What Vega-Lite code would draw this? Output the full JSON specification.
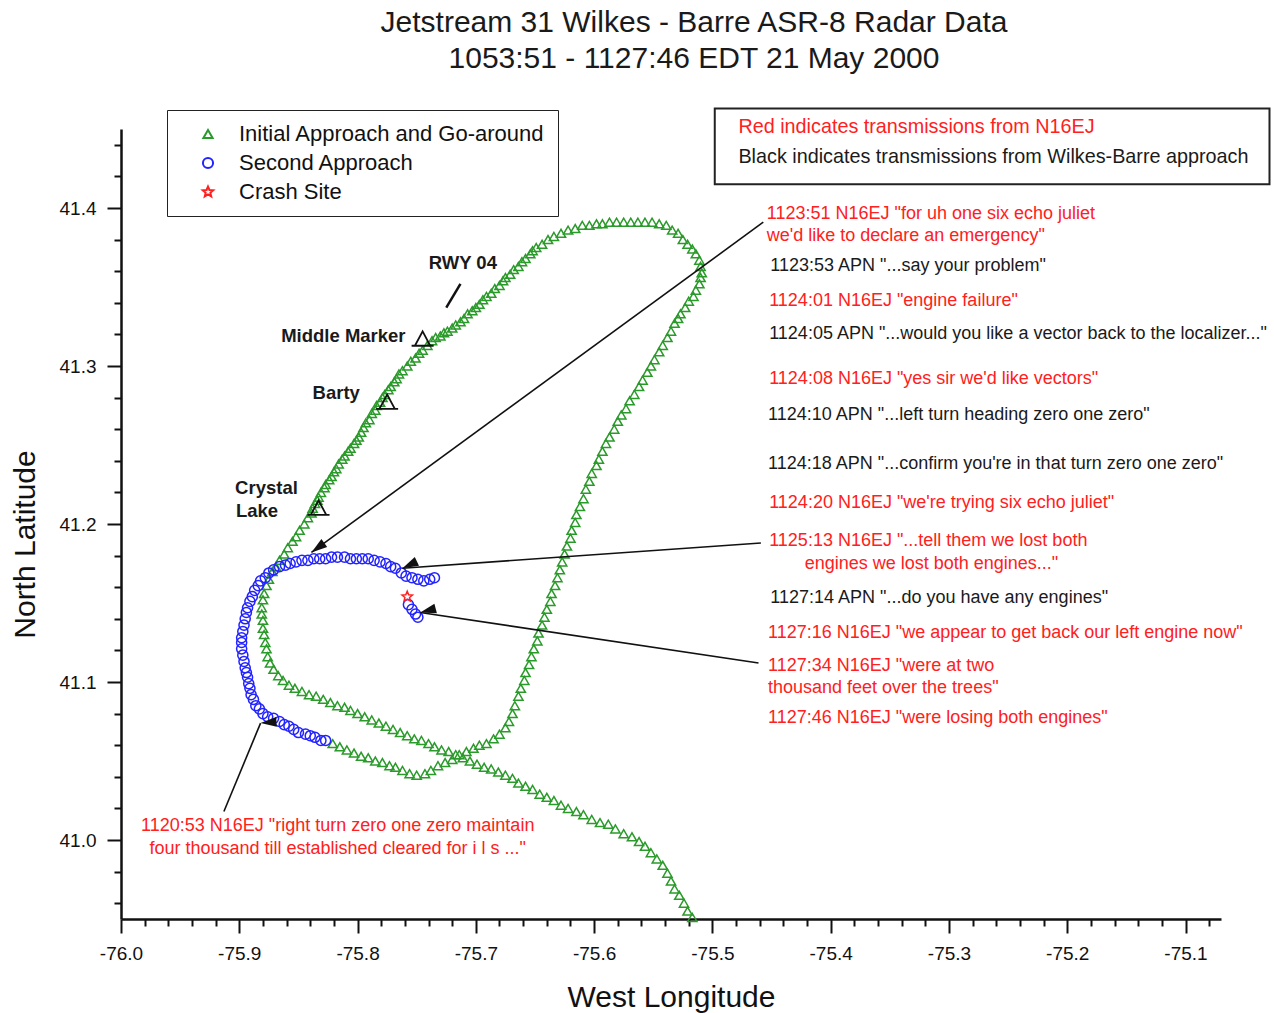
{
"$schema": "https://vega.github.io/schema/vega-lite/v6.json",
"width": 1100,
"height": 790,
"autosize": {"type": "none"},
"padding": {"left": 121, "top": 129, "right": 53, "bottom": 94},
"config": {"font": "Liberation Sans", "view": {"stroke": null}},
"title": {"text": ["Jetstream 31 Wilkes - Barre ASR-8 Radar Data", "1053:51 - 1127:46 EDT 21 May 2000"], "fontSize": 30, "fontWeight": "normal", "font": "Liberation Sans", "color": "#1a1a1a", "anchor": "middle", "frame": "group", "offset": 33, "dx": 23, "lineHeight": 36},
"datasets": {
"keybox": [{"lon": -75.498, "lat": 41.463, "lon2": -75.029, "lat2": 41.415}],
"key": [
{"text": "Red indicates transmissions from N16EJ", "who": "N16EJ", "lon": -75.478, "lat": 41.451},
{"text": "Black indicates transmissions from Wilkes-Barre approach", "who": "APN", "lon": -75.478, "lat": 41.432}
],
"fixes": [
{"fix": "Middle Marker", "lon": -75.745, "lat": 41.317},
{"fix": "Barty", "lon": -75.775, "lat": 41.277},
{"fix": "Crystal Lake", "lon": -75.833, "lat": 41.210}
],
"fixlabels": [
{"text": "RWY 04", "lon": -75.711, "lat": 41.365},
{"text": "Middle Marker", "lon": -75.812, "lat": 41.319},
{"text": "Barty", "lon": -75.818, "lat": 41.283},
{"text": "Crystal", "lon": -75.877, "lat": 41.223},
{"text": "Lake", "lon": -75.885, "lat": 41.208}
],
"runway": [{"lon": -75.725, "lat": 41.337, "lon2": -75.713, "lat2": 41.352}],
"arrows": [
{"id": "a1", "lon": -75.839, "lat": 41.182, "lon2": -75.457, "lat2": 41.391},
{"id": "a2", "lon": -75.762, "lat": 41.172, "lon2": -75.459, "lat2": 41.188},
{"id": "a3", "lon": -75.747, "lat": 41.144, "lon2": -75.461, "lat2": 41.112},
{"id": "a4", "lon": -75.882, "lat": 41.074, "lon2": -75.913, "lat2": 41.018}
],
"notes": [
{"text": "1123:51 N16EJ \"for uh one six echo juliet", "who": "N16EJ", "lon": -75.454, "lat": 41.396},
{"text": "we'd like to declare an emergency\"", "who": "N16EJ", "lon": -75.454, "lat": 41.382},
{"text": "1123:53 APN \"...say your problem\"", "who": "APN", "lon": -75.451, "lat": 41.363},
{"text": "1124:01 N16EJ \"engine failure\"", "who": "N16EJ", "lon": -75.452, "lat": 41.341},
{"text": "1124:05 APN \"...would you like a vector back to the localizer...\"", "who": "APN", "lon": -75.452, "lat": 41.320},
{"text": "1124:08 N16EJ \"yes sir we'd like vectors\"", "who": "N16EJ", "lon": -75.452, "lat": 41.292},
{"text": "1124:10 APN \"...left turn heading zero one zero\"", "who": "APN", "lon": -75.453, "lat": 41.269},
{"text": "1124:18 APN \"...confirm you're in that turn zero one zero\"", "who": "APN", "lon": -75.453, "lat": 41.238},
{"text": "1124:20 N16EJ \"we're trying six echo juliet\"", "who": "N16EJ", "lon": -75.452, "lat": 41.213},
{"text": "1125:13 N16EJ \"...tell them we lost both", "who": "N16EJ", "lon": -75.452, "lat": 41.189},
{"text": "engines we lost both engines...\"", "who": "N16EJ", "lon": -75.422, "lat": 41.175},
{"text": "1127:14 APN \"...do you have any engines\"", "who": "APN", "lon": -75.451, "lat": 41.153},
{"text": "1127:16 N16EJ \"we appear to get back our left engine now\"", "who": "N16EJ", "lon": -75.453, "lat": 41.131},
{"text": "1127:34 N16EJ \"were at two", "who": "N16EJ", "lon": -75.453, "lat": 41.110},
{"text": "thousand feet over the trees\"", "who": "N16EJ", "lon": -75.453, "lat": 41.096},
{"text": "1127:46 N16EJ \"were losing both engines\"", "who": "N16EJ", "lon": -75.453, "lat": 41.077},
{"text": "1120:53 N16EJ \"right turn zero one zero maintain", "who": "N16EJ", "lon": -75.983, "lat": 41.009},
{"text": "four thousand till established cleared for i l s ...\"", "who": "N16EJ", "lon": -75.976, "lat": 40.994}
],
"track": [
{"track":"Initial Approach and Go-around","lon":-75.517,"lat":40.951},
{"track":"Initial Approach and Go-around","lon":-75.521,"lat":40.955},
{"track":"Initial Approach and Go-around","lon":-75.524,"lat":40.960},
{"track":"Initial Approach and Go-around","lon":-75.528,"lat":40.965},
{"track":"Initial Approach and Go-around","lon":-75.532,"lat":40.969},
{"track":"Initial Approach and Go-around","lon":-75.535,"lat":40.974},
{"track":"Initial Approach and Go-around","lon":-75.538,"lat":40.979},
{"track":"Initial Approach and Go-around","lon":-75.542,"lat":40.984},
{"track":"Initial Approach and Go-around","lon":-75.547,"lat":40.988},
{"track":"Initial Approach and Go-around","lon":-75.552,"lat":40.992},
{"track":"Initial Approach and Go-around","lon":-75.557,"lat":40.996},
{"track":"Initial Approach and Go-around","lon":-75.562,"lat":40.999},
{"track":"Initial Approach and Go-around","lon":-75.568,"lat":41.002},
{"track":"Initial Approach and Go-around","lon":-75.575,"lat":41.004},
{"track":"Initial Approach and Go-around","lon":-75.582,"lat":41.007},
{"track":"Initial Approach and Go-around","lon":-75.588,"lat":41.010},
{"track":"Initial Approach and Go-around","lon":-75.595,"lat":41.011},
{"track":"Initial Approach and Go-around","lon":-75.602,"lat":41.013},
{"track":"Initial Approach and Go-around","lon":-75.609,"lat":41.016},
{"track":"Initial Approach and Go-around","lon":-75.615,"lat":41.018},
{"track":"Initial Approach and Go-around","lon":-75.622,"lat":41.020},
{"track":"Initial Approach and Go-around","lon":-75.628,"lat":41.022},
{"track":"Initial Approach and Go-around","lon":-75.634,"lat":41.025},
{"track":"Initial Approach and Go-around","lon":-75.640,"lat":41.027},
{"track":"Initial Approach and Go-around","lon":-75.646,"lat":41.029},
{"track":"Initial Approach and Go-around","lon":-75.652,"lat":41.032},
{"track":"Initial Approach and Go-around","lon":-75.658,"lat":41.034},
{"track":"Initial Approach and Go-around","lon":-75.664,"lat":41.036},
{"track":"Initial Approach and Go-around","lon":-75.669,"lat":41.039},
{"track":"Initial Approach and Go-around","lon":-75.675,"lat":41.041},
{"track":"Initial Approach and Go-around","lon":-75.681,"lat":41.043},
{"track":"Initial Approach and Go-around","lon":-75.687,"lat":41.045},
{"track":"Initial Approach and Go-around","lon":-75.693,"lat":41.046},
{"track":"Initial Approach and Go-around","lon":-75.699,"lat":41.048},
{"track":"Initial Approach and Go-around","lon":-75.705,"lat":41.050},
{"track":"Initial Approach and Go-around","lon":-75.711,"lat":41.052},
{"track":"Initial Approach and Go-around","lon":-75.717,"lat":41.054},
{"track":"Initial Approach and Go-around","lon":-75.723,"lat":41.056},
{"track":"Initial Approach and Go-around","lon":-75.729,"lat":41.057},
{"track":"Initial Approach and Go-around","lon":-75.735,"lat":41.059},
{"track":"Initial Approach and Go-around","lon":-75.740,"lat":41.061},
{"track":"Initial Approach and Go-around","lon":-75.746,"lat":41.063},
{"track":"Initial Approach and Go-around","lon":-75.752,"lat":41.064},
{"track":"Initial Approach and Go-around","lon":-75.758,"lat":41.066},
{"track":"Initial Approach and Go-around","lon":-75.764,"lat":41.068},
{"track":"Initial Approach and Go-around","lon":-75.770,"lat":41.070},
{"track":"Initial Approach and Go-around","lon":-75.776,"lat":41.072},
{"track":"Initial Approach and Go-around","lon":-75.782,"lat":41.074},
{"track":"Initial Approach and Go-around","lon":-75.788,"lat":41.076},
{"track":"Initial Approach and Go-around","lon":-75.794,"lat":41.078},
{"track":"Initial Approach and Go-around","lon":-75.800,"lat":41.080},
{"track":"Initial Approach and Go-around","lon":-75.806,"lat":41.082},
{"track":"Initial Approach and Go-around","lon":-75.811,"lat":41.084},
{"track":"Initial Approach and Go-around","lon":-75.817,"lat":41.085},
{"track":"Initial Approach and Go-around","lon":-75.823,"lat":41.087},
{"track":"Initial Approach and Go-around","lon":-75.829,"lat":41.089},
{"track":"Initial Approach and Go-around","lon":-75.835,"lat":41.091},
{"track":"Initial Approach and Go-around","lon":-75.841,"lat":41.092},
{"track":"Initial Approach and Go-around","lon":-75.847,"lat":41.094},
{"track":"Initial Approach and Go-around","lon":-75.853,"lat":41.096},
{"track":"Initial Approach and Go-around","lon":-75.858,"lat":41.098},
{"track":"Initial Approach and Go-around","lon":-75.863,"lat":41.101},
{"track":"Initial Approach and Go-around","lon":-75.867,"lat":41.104},
{"track":"Initial Approach and Go-around","lon":-75.871,"lat":41.108},
{"track":"Initial Approach and Go-around","lon":-75.874,"lat":41.112},
{"track":"Initial Approach and Go-around","lon":-75.876,"lat":41.116},
{"track":"Initial Approach and Go-around","lon":-75.877,"lat":41.121},
{"track":"Initial Approach and Go-around","lon":-75.878,"lat":41.125},
{"track":"Initial Approach and Go-around","lon":-75.879,"lat":41.130},
{"track":"Initial Approach and Go-around","lon":-75.880,"lat":41.134},
{"track":"Initial Approach and Go-around","lon":-75.880,"lat":41.139},
{"track":"Initial Approach and Go-around","lon":-75.881,"lat":41.143},
{"track":"Initial Approach and Go-around","lon":-75.881,"lat":41.147},
{"track":"Initial Approach and Go-around","lon":-75.880,"lat":41.152},
{"track":"Initial Approach and Go-around","lon":-75.879,"lat":41.156},
{"track":"Initial Approach and Go-around","lon":-75.877,"lat":41.161},
{"track":"Initial Approach and Go-around","lon":-75.875,"lat":41.165},
{"track":"Initial Approach and Go-around","lon":-75.872,"lat":41.170},
{"track":"Initial Approach and Go-around","lon":-75.869,"lat":41.173},
{"track":"Initial Approach and Go-around","lon":-75.866,"lat":41.177},
{"track":"Initial Approach and Go-around","lon":-75.862,"lat":41.181},
{"track":"Initial Approach and Go-around","lon":-75.859,"lat":41.185},
{"track":"Initial Approach and Go-around","lon":-75.855,"lat":41.189},
{"track":"Initial Approach and Go-around","lon":-75.852,"lat":41.192},
{"track":"Initial Approach and Go-around","lon":-75.849,"lat":41.196},
{"track":"Initial Approach and Go-around","lon":-75.845,"lat":41.200},
{"track":"Initial Approach and Go-around","lon":-75.842,"lat":41.204},
{"track":"Initial Approach and Go-around","lon":-75.839,"lat":41.207},
{"track":"Initial Approach and Go-around","lon":-75.838,"lat":41.210},
{"track":"Initial Approach and Go-around","lon":-75.836,"lat":41.213},
{"track":"Initial Approach and Go-around","lon":-75.834,"lat":41.215},
{"track":"Initial Approach and Go-around","lon":-75.833,"lat":41.217},
{"track":"Initial Approach and Go-around","lon":-75.831,"lat":41.220},
{"track":"Initial Approach and Go-around","lon":-75.828,"lat":41.223},
{"track":"Initial Approach and Go-around","lon":-75.827,"lat":41.225},
{"track":"Initial Approach and Go-around","lon":-75.824,"lat":41.228},
{"track":"Initial Approach and Go-around","lon":-75.822,"lat":41.230},
{"track":"Initial Approach and Go-around","lon":-75.820,"lat":41.233},
{"track":"Initial Approach and Go-around","lon":-75.818,"lat":41.235},
{"track":"Initial Approach and Go-around","lon":-75.816,"lat":41.238},
{"track":"Initial Approach and Go-around","lon":-75.813,"lat":41.241},
{"track":"Initial Approach and Go-around","lon":-75.811,"lat":41.243},
{"track":"Initial Approach and Go-around","lon":-75.808,"lat":41.246},
{"track":"Initial Approach and Go-around","lon":-75.806,"lat":41.248},
{"track":"Initial Approach and Go-around","lon":-75.803,"lat":41.251},
{"track":"Initial Approach and Go-around","lon":-75.801,"lat":41.253},
{"track":"Initial Approach and Go-around","lon":-75.799,"lat":41.255},
{"track":"Initial Approach and Go-around","lon":-75.797,"lat":41.258},
{"track":"Initial Approach and Go-around","lon":-75.795,"lat":41.261},
{"track":"Initial Approach and Go-around","lon":-75.793,"lat":41.264},
{"track":"Initial Approach and Go-around","lon":-75.790,"lat":41.266},
{"track":"Initial Approach and Go-around","lon":-75.788,"lat":41.270},
{"track":"Initial Approach and Go-around","lon":-75.785,"lat":41.272},
{"track":"Initial Approach and Go-around","lon":-75.784,"lat":41.275},
{"track":"Initial Approach and Go-around","lon":-75.781,"lat":41.277},
{"track":"Initial Approach and Go-around","lon":-75.779,"lat":41.280},
{"track":"Initial Approach and Go-around","lon":-75.777,"lat":41.282},
{"track":"Initial Approach and Go-around","lon":-75.774,"lat":41.285},
{"track":"Initial Approach and Go-around","lon":-75.772,"lat":41.287},
{"track":"Initial Approach and Go-around","lon":-75.769,"lat":41.290},
{"track":"Initial Approach and Go-around","lon":-75.767,"lat":41.292},
{"track":"Initial Approach and Go-around","lon":-75.765,"lat":41.295},
{"track":"Initial Approach and Go-around","lon":-75.762,"lat":41.297},
{"track":"Initial Approach and Go-around","lon":-75.758,"lat":41.300},
{"track":"Initial Approach and Go-around","lon":-75.755,"lat":41.303},
{"track":"Initial Approach and Go-around","lon":-75.751,"lat":41.305},
{"track":"Initial Approach and Go-around","lon":-75.748,"lat":41.308},
{"track":"Initial Approach and Go-around","lon":-75.745,"lat":41.310},
{"track":"Initial Approach and Go-around","lon":-75.741,"lat":41.313},
{"track":"Initial Approach and Go-around","lon":-75.737,"lat":41.316},
{"track":"Initial Approach and Go-around","lon":-75.734,"lat":41.318},
{"track":"Initial Approach and Go-around","lon":-75.730,"lat":41.319},
{"track":"Initial Approach and Go-around","lon":-75.727,"lat":41.321},
{"track":"Initial Approach and Go-around","lon":-75.724,"lat":41.322},
{"track":"Initial Approach and Go-around","lon":-75.720,"lat":41.324},
{"track":"Initial Approach and Go-around","lon":-75.717,"lat":41.326},
{"track":"Initial Approach and Go-around","lon":-75.713,"lat":41.328},
{"track":"Initial Approach and Go-around","lon":-75.710,"lat":41.330},
{"track":"Initial Approach and Go-around","lon":-75.707,"lat":41.333},
{"track":"Initial Approach and Go-around","lon":-75.703,"lat":41.335},
{"track":"Initial Approach and Go-around","lon":-75.700,"lat":41.337},
{"track":"Initial Approach and Go-around","lon":-75.697,"lat":41.339},
{"track":"Initial Approach and Go-around","lon":-75.694,"lat":41.342},
{"track":"Initial Approach and Go-around","lon":-75.691,"lat":41.344},
{"track":"Initial Approach and Go-around","lon":-75.687,"lat":41.346},
{"track":"Initial Approach and Go-around","lon":-75.684,"lat":41.349},
{"track":"Initial Approach and Go-around","lon":-75.680,"lat":41.351},
{"track":"Initial Approach and Go-around","lon":-75.677,"lat":41.354},
{"track":"Initial Approach and Go-around","lon":-75.675,"lat":41.356},
{"track":"Initial Approach and Go-around","lon":-75.671,"lat":41.358},
{"track":"Initial Approach and Go-around","lon":-75.668,"lat":41.361},
{"track":"Initial Approach and Go-around","lon":-75.664,"lat":41.363},
{"track":"Initial Approach and Go-around","lon":-75.661,"lat":41.366},
{"track":"Initial Approach and Go-around","lon":-75.658,"lat":41.368},
{"track":"Initial Approach and Go-around","lon":-75.654,"lat":41.371},
{"track":"Initial Approach and Go-around","lon":-75.652,"lat":41.373},
{"track":"Initial Approach and Go-around","lon":-75.649,"lat":41.375},
{"track":"Initial Approach and Go-around","lon":-75.644,"lat":41.377},
{"track":"Initial Approach and Go-around","lon":-75.639,"lat":41.380},
{"track":"Initial Approach and Go-around","lon":-75.634,"lat":41.382},
{"track":"Initial Approach and Go-around","lon":-75.628,"lat":41.384},
{"track":"Initial Approach and Go-around","lon":-75.622,"lat":41.386},
{"track":"Initial Approach and Go-around","lon":-75.616,"lat":41.387},
{"track":"Initial Approach and Go-around","lon":-75.610,"lat":41.389},
{"track":"Initial Approach and Go-around","lon":-75.604,"lat":41.389},
{"track":"Initial Approach and Go-around","lon":-75.598,"lat":41.390},
{"track":"Initial Approach and Go-around","lon":-75.593,"lat":41.390},
{"track":"Initial Approach and Go-around","lon":-75.587,"lat":41.391},
{"track":"Initial Approach and Go-around","lon":-75.581,"lat":41.391},
{"track":"Initial Approach and Go-around","lon":-75.575,"lat":41.391},
{"track":"Initial Approach and Go-around","lon":-75.569,"lat":41.391},
{"track":"Initial Approach and Go-around","lon":-75.563,"lat":41.391},
{"track":"Initial Approach and Go-around","lon":-75.557,"lat":41.391},
{"track":"Initial Approach and Go-around","lon":-75.551,"lat":41.391},
{"track":"Initial Approach and Go-around","lon":-75.545,"lat":41.390},
{"track":"Initial Approach and Go-around","lon":-75.539,"lat":41.389},
{"track":"Initial Approach and Go-around","lon":-75.534,"lat":41.386},
{"track":"Initial Approach and Go-around","lon":-75.529,"lat":41.384},
{"track":"Initial Approach and Go-around","lon":-75.525,"lat":41.380},
{"track":"Initial Approach and Go-around","lon":-75.521,"lat":41.377},
{"track":"Initial Approach and Go-around","lon":-75.517,"lat":41.374},
{"track":"Initial Approach and Go-around","lon":-75.514,"lat":41.371},
{"track":"Initial Approach and Go-around","lon":-75.511,"lat":41.367},
{"track":"Initial Approach and Go-around","lon":-75.510,"lat":41.363},
{"track":"Initial Approach and Go-around","lon":-75.509,"lat":41.359},
{"track":"Initial Approach and Go-around","lon":-75.510,"lat":41.356},
{"track":"Initial Approach and Go-around","lon":-75.511,"lat":41.352},
{"track":"Initial Approach and Go-around","lon":-75.514,"lat":41.348},
{"track":"Initial Approach and Go-around","lon":-75.516,"lat":41.344},
{"track":"Initial Approach and Go-around","lon":-75.520,"lat":41.341},
{"track":"Initial Approach and Go-around","lon":-75.523,"lat":41.337},
{"track":"Initial Approach and Go-around","lon":-75.527,"lat":41.333},
{"track":"Initial Approach and Go-around","lon":-75.529,"lat":41.330},
{"track":"Initial Approach and Go-around","lon":-75.532,"lat":41.327},
{"track":"Initial Approach and Go-around","lon":-75.535,"lat":41.322},
{"track":"Initial Approach and Go-around","lon":-75.538,"lat":41.318},
{"track":"Initial Approach and Go-around","lon":-75.542,"lat":41.313},
{"track":"Initial Approach and Go-around","lon":-75.545,"lat":41.309},
{"track":"Initial Approach and Go-around","lon":-75.549,"lat":41.304},
{"track":"Initial Approach and Go-around","lon":-75.552,"lat":41.300},
{"track":"Initial Approach and Go-around","lon":-75.555,"lat":41.296},
{"track":"Initial Approach and Go-around","lon":-75.559,"lat":41.291},
{"track":"Initial Approach and Go-around","lon":-75.562,"lat":41.287},
{"track":"Initial Approach and Go-around","lon":-75.566,"lat":41.282},
{"track":"Initial Approach and Go-around","lon":-75.570,"lat":41.278},
{"track":"Initial Approach and Go-around","lon":-75.573,"lat":41.273},
{"track":"Initial Approach and Go-around","lon":-75.577,"lat":41.269},
{"track":"Initial Approach and Go-around","lon":-75.580,"lat":41.265},
{"track":"Initial Approach and Go-around","lon":-75.583,"lat":41.260},
{"track":"Initial Approach and Go-around","lon":-75.587,"lat":41.255},
{"track":"Initial Approach and Go-around","lon":-75.590,"lat":41.251},
{"track":"Initial Approach and Go-around","lon":-75.593,"lat":41.246},
{"track":"Initial Approach and Go-around","lon":-75.596,"lat":41.241},
{"track":"Initial Approach and Go-around","lon":-75.598,"lat":41.237},
{"track":"Initial Approach and Go-around","lon":-75.602,"lat":41.232},
{"track":"Initial Approach and Go-around","lon":-75.604,"lat":41.227},
{"track":"Initial Approach and Go-around","lon":-75.607,"lat":41.222},
{"track":"Initial Approach and Go-around","lon":-75.609,"lat":41.216},
{"track":"Initial Approach and Go-around","lon":-75.612,"lat":41.211},
{"track":"Initial Approach and Go-around","lon":-75.615,"lat":41.206},
{"track":"Initial Approach and Go-around","lon":-75.616,"lat":41.201},
{"track":"Initial Approach and Go-around","lon":-75.619,"lat":41.196},
{"track":"Initial Approach and Go-around","lon":-75.620,"lat":41.191},
{"track":"Initial Approach and Go-around","lon":-75.623,"lat":41.186},
{"track":"Initial Approach and Go-around","lon":-75.625,"lat":41.181},
{"track":"Initial Approach and Go-around","lon":-75.627,"lat":41.176},
{"track":"Initial Approach and Go-around","lon":-75.629,"lat":41.171},
{"track":"Initial Approach and Go-around","lon":-75.631,"lat":41.166},
{"track":"Initial Approach and Go-around","lon":-75.633,"lat":41.161},
{"track":"Initial Approach and Go-around","lon":-75.636,"lat":41.156},
{"track":"Initial Approach and Go-around","lon":-75.637,"lat":41.151},
{"track":"Initial Approach and Go-around","lon":-75.640,"lat":41.146},
{"track":"Initial Approach and Go-around","lon":-75.642,"lat":41.141},
{"track":"Initial Approach and Go-around","lon":-75.644,"lat":41.136},
{"track":"Initial Approach and Go-around","lon":-75.647,"lat":41.131},
{"track":"Initial Approach and Go-around","lon":-75.648,"lat":41.126},
{"track":"Initial Approach and Go-around","lon":-75.651,"lat":41.121},
{"track":"Initial Approach and Go-around","lon":-75.653,"lat":41.116},
{"track":"Initial Approach and Go-around","lon":-75.655,"lat":41.111},
{"track":"Initial Approach and Go-around","lon":-75.658,"lat":41.106},
{"track":"Initial Approach and Go-around","lon":-75.659,"lat":41.101},
{"track":"Initial Approach and Go-around","lon":-75.662,"lat":41.096},
{"track":"Initial Approach and Go-around","lon":-75.664,"lat":41.091},
{"track":"Initial Approach and Go-around","lon":-75.667,"lat":41.085},
{"track":"Initial Approach and Go-around","lon":-75.669,"lat":41.080},
{"track":"Initial Approach and Go-around","lon":-75.672,"lat":41.075},
{"track":"Initial Approach and Go-around","lon":-75.675,"lat":41.071},
{"track":"Initial Approach and Go-around","lon":-75.680,"lat":41.067},
{"track":"Initial Approach and Go-around","lon":-75.685,"lat":41.064},
{"track":"Initial Approach and Go-around","lon":-75.691,"lat":41.061},
{"track":"Initial Approach and Go-around","lon":-75.697,"lat":41.060},
{"track":"Initial Approach and Go-around","lon":-75.702,"lat":41.058},
{"track":"Initial Approach and Go-around","lon":-75.708,"lat":41.056},
{"track":"Initial Approach and Go-around","lon":-75.714,"lat":41.054},
{"track":"Initial Approach and Go-around","lon":-75.720,"lat":41.051},
{"track":"Initial Approach and Go-around","lon":-75.726,"lat":41.049},
{"track":"Initial Approach and Go-around","lon":-75.732,"lat":41.047},
{"track":"Initial Approach and Go-around","lon":-75.738,"lat":41.044},
{"track":"Initial Approach and Go-around","lon":-75.743,"lat":41.042},
{"track":"Initial Approach and Go-around","lon":-75.750,"lat":41.041},
{"track":"Initial Approach and Go-around","lon":-75.756,"lat":41.042},
{"track":"Initial Approach and Go-around","lon":-75.762,"lat":41.044},
{"track":"Initial Approach and Go-around","lon":-75.768,"lat":41.046},
{"track":"Initial Approach and Go-around","lon":-75.773,"lat":41.047},
{"track":"Initial Approach and Go-around","lon":-75.779,"lat":41.049},
{"track":"Initial Approach and Go-around","lon":-75.785,"lat":41.050},
{"track":"Initial Approach and Go-around","lon":-75.791,"lat":41.052},
{"track":"Initial Approach and Go-around","lon":-75.797,"lat":41.053},
{"track":"Initial Approach and Go-around","lon":-75.803,"lat":41.055},
{"track":"Initial Approach and Go-around","lon":-75.809,"lat":41.057},
{"track":"Initial Approach and Go-around","lon":-75.815,"lat":41.059},
{"track":"Initial Approach and Go-around","lon":-75.821,"lat":41.061},
{"track":"Second Approach","lon":-75.827,"lat":41.063},
{"track":"Second Approach","lon":-75.831,"lat":41.063},
{"track":"Second Approach","lon":-75.836,"lat":41.065},
{"track":"Second Approach","lon":-75.840,"lat":41.066},
{"track":"Second Approach","lon":-75.844,"lat":41.067},
{"track":"Second Approach","lon":-75.850,"lat":41.068},
{"track":"Second Approach","lon":-75.854,"lat":41.070},
{"track":"Second Approach","lon":-75.858,"lat":41.072},
{"track":"Second Approach","lon":-75.862,"lat":41.073},
{"track":"Second Approach","lon":-75.866,"lat":41.075},
{"track":"Second Approach","lon":-75.871,"lat":41.077},
{"track":"Second Approach","lon":-75.876,"lat":41.078},
{"track":"Second Approach","lon":-75.880,"lat":41.080},
{"track":"Second Approach","lon":-75.883,"lat":41.083},
{"track":"Second Approach","lon":-75.886,"lat":41.085},
{"track":"Second Approach","lon":-75.888,"lat":41.089},
{"track":"Second Approach","lon":-75.890,"lat":41.092},
{"track":"Second Approach","lon":-75.891,"lat":41.096},
{"track":"Second Approach","lon":-75.892,"lat":41.099},
{"track":"Second Approach","lon":-75.893,"lat":41.103},
{"track":"Second Approach","lon":-75.894,"lat":41.106},
{"track":"Second Approach","lon":-75.895,"lat":41.109},
{"track":"Second Approach","lon":-75.896,"lat":41.113},
{"track":"Second Approach","lon":-75.897,"lat":41.117},
{"track":"Second Approach","lon":-75.898,"lat":41.121},
{"track":"Second Approach","lon":-75.898,"lat":41.125},
{"track":"Second Approach","lon":-75.898,"lat":41.128},
{"track":"Second Approach","lon":-75.897,"lat":41.132},
{"track":"Second Approach","lon":-75.896,"lat":41.136},
{"track":"Second Approach","lon":-75.895,"lat":41.140},
{"track":"Second Approach","lon":-75.894,"lat":41.144},
{"track":"Second Approach","lon":-75.893,"lat":41.147},
{"track":"Second Approach","lon":-75.891,"lat":41.151},
{"track":"Second Approach","lon":-75.889,"lat":41.154},
{"track":"Second Approach","lon":-75.887,"lat":41.158},
{"track":"Second Approach","lon":-75.884,"lat":41.161},
{"track":"Second Approach","lon":-75.882,"lat":41.164},
{"track":"Second Approach","lon":-75.878,"lat":41.166},
{"track":"Second Approach","lon":-75.875,"lat":41.169},
{"track":"Second Approach","lon":-75.871,"lat":41.171},
{"track":"Second Approach","lon":-75.866,"lat":41.173},
{"track":"Second Approach","lon":-75.861,"lat":41.174},
{"track":"Second Approach","lon":-75.857,"lat":41.175},
{"track":"Second Approach","lon":-75.852,"lat":41.176},
{"track":"Second Approach","lon":-75.847,"lat":41.177},
{"track":"Second Approach","lon":-75.842,"lat":41.177},
{"track":"Second Approach","lon":-75.837,"lat":41.178},
{"track":"Second Approach","lon":-75.832,"lat":41.178},
{"track":"Second Approach","lon":-75.827,"lat":41.178},
{"track":"Second Approach","lon":-75.822,"lat":41.179},
{"track":"Second Approach","lon":-75.817,"lat":41.179},
{"track":"Second Approach","lon":-75.811,"lat":41.179},
{"track":"Second Approach","lon":-75.806,"lat":41.178},
{"track":"Second Approach","lon":-75.801,"lat":41.178},
{"track":"Second Approach","lon":-75.796,"lat":41.178},
{"track":"Second Approach","lon":-75.791,"lat":41.178},
{"track":"Second Approach","lon":-75.786,"lat":41.177},
{"track":"Second Approach","lon":-75.781,"lat":41.176},
{"track":"Second Approach","lon":-75.776,"lat":41.175},
{"track":"Second Approach","lon":-75.772,"lat":41.173},
{"track":"Second Approach","lon":-75.768,"lat":41.172},
{"track":"Second Approach","lon":-75.763,"lat":41.169},
{"track":"Second Approach","lon":-75.759,"lat":41.167},
{"track":"Second Approach","lon":-75.754,"lat":41.166},
{"track":"Second Approach","lon":-75.749,"lat":41.165},
{"track":"Second Approach","lon":-75.744,"lat":41.164},
{"track":"Second Approach","lon":-75.739,"lat":41.165},
{"track":"Second Approach","lon":-75.735,"lat":41.166},
{"track":"Second Approach","lon":-75.757,"lat":41.149},
{"track":"Second Approach","lon":-75.754,"lat":41.146},
{"track":"Second Approach","lon":-75.751,"lat":41.143},
{"track":"Second Approach","lon":-75.749,"lat":41.141},
{"track":"Crash Site","lon":-75.758,"lat":41.154}
]
},
"encoding": {
"x": {"field": "lon", "type": "quantitative", "scale": {"domain": [-76.0, -75.07], "nice": false, "zero": false},
 "axis": {"title": "West Longitude", "grid": false,
  "values": [-76,-75.98,-75.96,-75.94,-75.92,-75.9,-75.88,-75.86,-75.84,-75.82,-75.8,-75.78,-75.76,-75.74,-75.72,-75.7,-75.68,-75.66,-75.64,-75.62,-75.6,-75.58,-75.56,-75.54,-75.52,-75.5,-75.48,-75.46,-75.44,-75.42,-75.4,-75.38,-75.36,-75.34,-75.32,-75.3,-75.28,-75.26,-75.24,-75.22,-75.2,-75.18,-75.16,-75.14,-75.12,-75.1,-75.08],
  "labelExpr": "abs(datum.value*10 - round(datum.value*10)) < 0.001 ? replace(format(datum.value, '.1f'), '\u2212', '-') : ''",
  "tickSize": {"condition": {"test": "abs(datum.value*10 - round(datum.value*10)) < 0.001", "value": 14}, "value": 7},
  "tickWidth": 2, "tickColor": "#111", "domainColor": "#111", "domainWidth": 2.5,
  "labelFontSize": 19, "labelColor": "#111", "labelPadding": 11, "labelFlush": false, "labelOverlap": false,
  "titleFontSize": 30, "titleFontWeight": "normal", "titleColor": "#111", "titleY": 78, "titleBaseline": "middle"}},
"y": {"field": "lat", "type": "quantitative", "scale": {"domain": [40.95, 41.45], "nice": false, "zero": false},
 "axis": {"title": "North Latitude", "grid": false,
  "values": [40.96,40.98,41.0,41.02,41.04,41.06,41.08,41.1,41.12,41.14,41.16,41.18,41.2,41.22,41.24,41.26,41.28,41.3,41.32,41.34,41.36,41.38,41.4,41.42,41.44],
  "labelExpr": "abs(datum.value*10 - round(datum.value*10)) < 0.001 ? format(datum.value, '.1f') : ''",
  "tickSize": {"condition": {"test": "abs(datum.value*10 - round(datum.value*10)) < 0.001", "value": 14}, "value": 7},
  "tickWidth": 2, "tickColor": "#111", "domainColor": "#111", "domainWidth": 2.5,
  "labelFontSize": 19, "labelColor": "#111", "labelPadding": 11, "labelFlush": false, "labelOverlap": false,
  "titleFontSize": 30, "titleFontWeight": "normal", "titleColor": "#111", "titleX": -96, "titleY": 415, "titleAlign": "center", "titleBaseline": "middle"}}
},
"layer": [
{"data": {"name": "keybox"}, "mark": {"type": "rect", "fill": "white", "stroke": "#222", "strokeWidth": 2},
 "encoding": {"x2": {"field": "lon2"}, "y2": {"field": "lat2"}}},
{"data": {"name": "key"}, "transform": [{"filter": "datum.who == 'N16EJ'"}], "mark": {"type": "text", "align": "left", "baseline": "middle", "fontSize": 19.8, "color": "#ff2020"},
 "encoding": {"text": {"field": "text"}}},
{"data": {"name": "key"}, "transform": [{"filter": "datum.who == 'APN'"}], "mark": {"type": "text", "align": "left", "baseline": "middle", "fontSize": 19.8, "color": "#1a1a1a"},
 "encoding": {"text": {"field": "text"}}},
{"data": {"name": "track"}, "mark": {"type": "point", "filled": false, "strokeWidth": 1.5, "opacity": 1},
 "encoding": {
  "color": {"field": "track", "type": "nominal", "scale": {"domain": ["Initial Approach and Go-around", "Second Approach", "Crash Site"], "range": ["#2a9a2a", "#2323ff", "#ff2020"]},
   "legend": {"title": null, "orient": "none", "legendX": 46, "legendY": -19, "strokeColor": "#222", "fillColor": "white", "padding": 13, "labelFontSize": 22, "labelColor": "#111", "labelLimit": 0, "symbolOffset": 17, "labelOffset": 20, "rowPadding": 7, "symbolStrokeWidth": 2}},
  "shape": {"field": "track", "type": "nominal", "scale": {"domain": ["Initial Approach and Go-around", "Second Approach", "Crash Site"], "range": ["triangle-up", "circle", "M0,-1L0.265,-0.364L0.951,-0.309L0.428,0.139L0.588,0.809L0,0.45L-0.588,0.809L-0.428,0.139L-0.951,-0.309L-0.265,-0.364Z"]},
   "legend": {"title": null, "orient": "none", "legendX": 46, "legendY": -19, "strokeColor": "#222", "fillColor": "white", "padding": 13, "labelFontSize": 22, "labelColor": "#111", "labelLimit": 0, "symbolOffset": 17, "labelOffset": 20, "rowPadding": 7, "symbolStrokeWidth": 2}},
  "size": {"field": "track", "type": "nominal", "scale": {"domain": ["Initial Approach and Go-around", "Second Approach", "Crash Site"], "range": [85, 120, 320]},
   "legend": {"title": null, "orient": "none", "legendX": 46, "legendY": -19, "strokeColor": "#222", "fillColor": "white", "padding": 13, "labelFontSize": 22, "labelColor": "#111", "labelLimit": 0, "symbolOffset": 17, "labelOffset": 20, "rowPadding": 7, "symbolStrokeWidth": 2}}
 }},
{"data": {"name": "fixes"}, "mark": {"type": "point", "shape": "M-0.7,0.6L0,-0.7L0.7,0.6Z M-1,0.6L1,0.6", "size": 484, "filled": false, "stroke": "#111", "strokeWidth": 1.8, "opacity": 1},
 "encoding": {}},
{"data": {"name": "fixlabels"}, "mark": {"type": "text", "align": "center", "baseline": "middle", "fontSize": 18.5, "fontWeight": "bold", "color": "#1a1a1a"},
 "encoding": {"text": {"field": "text"}}},
{"data": {"name": "runway"}, "mark": {"type": "rule", "stroke": "#111", "strokeWidth": 2.5},
 "encoding": {"x2": {"field": "lon2"}, "y2": {"field": "lat2"}}},
{"data": {"name": "arrows"}, "mark": {"type": "rule", "stroke": "#111", "strokeWidth": 1.6},
 "encoding": {"x2": {"field": "lon2"}, "y2": {"field": "lat2"}}},
{"data": {"name": "arrows"}, "mark": {"type": "point", "shape": "M0,0L0.8,2.6L-0.8,2.6Z", "size": 150, "filled": true, "color": "#111", "opacity": 1},
 "encoding": {"angle": {"field": "id", "type": "nominal", "scale": {"domain": ["a1", "a2", "a3", "a4"], "range": [233.9, 266, 278.6, 22.8]}, "legend": null}}},
{"data": {"name": "notes"}, "transform": [{"filter": "datum.who == 'N16EJ'"}], "mark": {"type": "text", "align": "left", "baseline": "middle", "fontSize": 18, "color": "#ff2020"},
 "encoding": {"text": {"field": "text"}}},
{"data": {"name": "notes"}, "transform": [{"filter": "datum.who == 'APN'"}], "mark": {"type": "text", "align": "left", "baseline": "middle", "fontSize": 18, "color": "#1a1a1a"},
 "encoding": {"text": {"field": "text"}}}
]
}
